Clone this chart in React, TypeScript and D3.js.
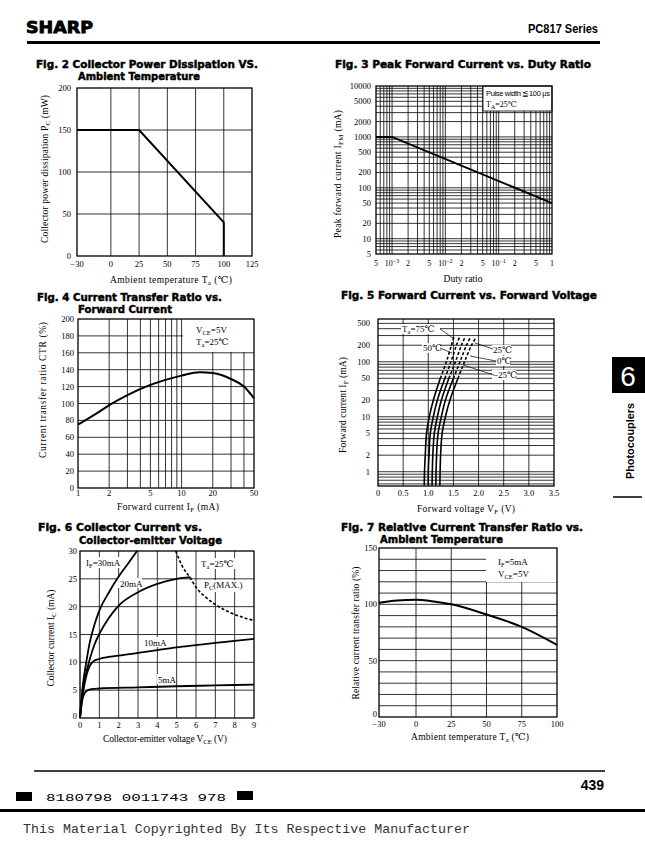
import React from "react";
import * as d3 from "d3";

const SERIF = "'Liberation Serif','DejaVu Serif',serif";
const SANS = "'Liberation Sans',Arial,sans-serif";
const HEAVY = "'DejaVu Sans','Liberation Sans',Arial,sans-serif";
const MONO = "'Liberation Mono','DejaVu Sans Mono',monospace";

// ---------- Fig 2 data
const fig2Temp = [-30, 25, 100, 100];
const fig2Pc = [150, 150, 40, 0];
const fig2XTicks = [-30, 0, 25, 50, 75, 100, 125];
const fig2YTicks = [0, 50, 100, 150, 200];
const fig2GridX = [0, 25, 50, 75, 100];
const fig2GridY = [50, 100, 150];

// ---------- Fig 3 data
const fig3Duty = [0.0005, 0.001, 1];
const fig3Ifm = [1000, 1000, 50];
const fig3YTicks = [5, 10, 20, 50, 100, 200, 500, 1000, 2000, 5000, 10000];
const fig3XTicks = [0.0005, 0.001, 0.002, 0.005, 0.01, 0.02, 0.05, 0.1, 0.2, 0.5, 1];
const fig3XLabels = ["5", "10|-3", "2", "5", "10|-2", "2", "5", "10|-1", "2", "5", "1"];

// ---------- Fig 4 data
const fig4If = [1, 1.5, 2, 3, 5, 7, 10, 15, 20, 30, 40, 50];
const fig4Ctr = [75, 88, 98, 110, 122, 128, 133, 137, 136, 129, 120, 106];
const fig4XTicks = [1, 2, 5, 10, 20, 50];
const fig4YTicks = [0, 20, 40, 60, 80, 100, 120, 140, 160, 180, 200];
const fig4GridX = [2, 3, 4, 5, 6, 7, 8, 9, 10, 20, 30, 40];

// ---------- Fig 5 data
const fig5Current = [0.56, 1, 2, 5, 10, 20, 50, 100, 200, 280];
const fig5V75 = [0.92, 0.925, 0.94, 0.965, 1.02, 1.1, 1.24, 1.36, 1.46, 1.51];
const fig5V50 = [1.0, 1.0, 1.015, 1.04, 1.1, 1.18, 1.33, 1.45, 1.56, 1.62];
const fig5V25 = [1.075, 1.08, 1.09, 1.12, 1.18, 1.26, 1.41, 1.54, 1.66, 1.73];
const fig5V0 = [1.15, 1.155, 1.165, 1.195, 1.26, 1.34, 1.5, 1.63, 1.76, 1.84];
const fig5Vm25 = [1.23, 1.235, 1.245, 1.275, 1.34, 1.43, 1.59, 1.72, 1.86, 1.95];
const fig5XTicks = [0, 0.5, 1.0, 1.5, 2.0, 2.5, 3.0, 3.5];
const fig5YTicks = [1, 2, 5, 10, 20, 50, 100, 200, 500];

// ---------- Fig 6 data
const fig6V30 = [0, 0.05, 0.15, 0.3, 0.5, 0.75, 1, 1.5, 2, 2.5, 2.95];
const fig6I30 = [0, 2.5, 6, 9.5, 13.5, 16.8, 19.3, 22.6, 25.4, 27.8, 30];
const fig6V20 = [0, 0.05, 0.15, 0.3, 0.5, 0.75, 1, 1.5, 2, 3, 4, 5, 5.7];
const fig6I20 = [0, 2, 4.8, 7.8, 10.5, 13.2, 15.1, 18, 20.2, 22.6, 24.1, 25, 25.3];
const fig6V10 = [0, 0.05, 0.15, 0.3, 0.5, 0.7, 1, 2, 3, 4, 5, 6, 7, 8, 9];
const fig6I10 = [0, 2, 4.5, 7.2, 9.3, 10.2, 10.6, 11.2, 11.7, 12.2, 12.7, 13.1, 13.5, 13.85, 14.2];
const fig6V5 = [0, 0.05, 0.12, 0.25, 0.4, 0.6, 1, 3, 5, 7, 9];
const fig6I5 = [0, 1.5, 3.2, 4.5, 5.0, 5.2, 5.3, 5.5, 5.7, 5.85, 6.0];
const fig6PcV = [4.95, 5.3, 5.7, 6, 6.5, 7, 7.5, 8, 8.5, 9];
const fig6PcI = [30, 27.2, 25.2, 23.5, 21.7, 20.4, 19.4, 18.6, 18, 17.5];
const fig6XTicks = [0, 1, 2, 3, 4, 5, 6, 7, 8, 9];
const fig6YTicks = [0, 5, 10, 15, 20, 25, 30];

// ---------- Fig 7 data
const fig7Temp = [-30, -15, 0, 10, 25, 50, 75, 100];
const fig7Ratio = [101.5, 103.5, 104, 103, 100, 91, 80, 64];
const fig7XTicks = [-30, 0, 25, 50, 75, 100];
const fig7YTicks = [0, 50, 100, 150];
const fig7GridY = [10, 20, 30, 40, 50, 60, 70, 80, 90, 100, 110, 120, 130, 140];

const zip = (a: number[], b: number[]) => a.map((v, i) => [v, b[i]] as [number, number]);

const logMinors = (lo: number, hi: number) => {
  const out: number[] = [];
  for (let e = Math.floor(Math.log10(lo)) - 1; e <= Math.ceil(Math.log10(hi)); e++) {
    for (let k = 1; k <= 9; k++) {
      const v = k * Math.pow(10, e);
      if (v > lo * 1.0001 && v < hi * 0.9999) out.push(v);
    }
  }
  return out;
};

const GRID = 0.8;
const FRAME = 1.3;

function Heading({ x, y, w, text }: { x: number; y: number; w: number; text: string }) {
  return (
    <text x={x} y={y} fontFamily={HEAVY} fontWeight="bold" fontSize={10.5} textLength={w}
      lengthAdjust="spacingAndGlyphs" stroke="#000" strokeWidth={0.45}>{text}</text>
  );
}

function VGrid({ vals, xs, y0, y1 }: any) {
  return <g>{vals.map((v: number, i: number) => (
    <line key={i} x1={xs(v)} x2={xs(v)} y1={y0} y2={y1} stroke="#000" strokeWidth={GRID} />))}</g>;
}
function HGrid({ vals, ys, x0, x1 }: any) {
  return <g>{vals.map((v: number, i: number) => (
    <line key={i} x1={x0} x2={x1} y1={ys(v)} y2={ys(v)} stroke="#000" strokeWidth={GRID} />))}</g>;
}
function YLabels({ vals, ys, x, fmt, lowShift = 0 }: any) {
  return <g>{vals.map((v: number, i: number) => (
    <text key={i} x={x} y={ys(v) + 3 - (i === 0 ? lowShift : 0)} textAnchor="end" fontFamily={SERIF} fontSize={8.5}>{fmt ? fmt(v) : String(v)}</text>))}</g>;
}
function XLabels({ vals, xs, y, fmt }: any) {
  return <g>{vals.map((v: number, i: number) => (
    <text key={i} x={xs(v)} y={y} textAnchor="middle" fontFamily={SERIF} fontSize={8.5}>{fmt ? fmt(v, i) : String(v)}</text>))}</g>;
}
const minus = (v: number) => (v < 0 ? "\u2212" + Math.abs(v) : String(v));

function Fig2() {
  const xs = d3.scaleLinear().domain([-30, 125]).range([77, 252]);
  const ys = d3.scaleLinear().domain([0, 200]).range([256, 88]);
  const line = d3.line<[number, number]>().x(d => xs(d[0])).y(d => ys(d[1]));
  return (
    <g>
      <Heading x={36} y={68} w={222} text="Fig. 2 Collector Power Dissipation VS." />
      <Heading x={78} y={80} w={122} text="Ambient Temperature" />
      <VGrid vals={fig2GridX} xs={xs} y0={88} y1={256} />
      <HGrid vals={fig2GridY} ys={ys} x0={77} x1={252} />
      <rect x={77} y={88} width={175} height={168} fill="none" stroke="#000" strokeWidth={FRAME} />
      <path d={line(zip(fig2Temp, fig2Pc)) || ""} fill="none" stroke="#000" strokeWidth={2} />
      <YLabels vals={fig2YTicks} ys={ys} x={71} />
      <XLabels vals={fig2XTicks} xs={xs} y={267} fmt={(v: number) => minus(v)} />
      <text x={171} y={283} textAnchor="middle" fontFamily={SERIF} fontSize={9.5} textLength={122}>
        Ambient temperature T<tspan fontSize={7} dy={2}>a</tspan><tspan dy={-2}> (℃)</tspan>
      </text>
      <text transform="translate(48,169) rotate(-90)" textAnchor="middle" fontFamily={SERIF} fontSize={9.5} textLength={148}>
        Collector power dissipation P<tspan fontSize={7} dy={2}>C</tspan><tspan dy={-2}> (mW)</tspan>
      </text>
    </g>
  );
}

function Fig3() {
  const xs = d3.scaleLog().domain([0.0005, 1]).range([376, 552]);
  const ys = d3.scaleLog().domain([5, 10000]).range([254, 86]);
  const line = d3.line<[number, number]>().x(d => xs(d[0])).y(d => ys(d[1]));
  return (
    <g>
      <Heading x={335} y={68} w={256} text="Fig. 3 Peak Forward Current vs. Duty Ratio" />
      <VGrid vals={logMinors(0.0005, 1)} xs={xs} y0={86} y1={254} />
      <HGrid vals={logMinors(5, 10000)} ys={ys} x0={376} x1={552} />
      <rect x={483} y={86} width={69} height={25} fill="#fff" stroke="#000" strokeWidth={GRID} />
      <rect x={376} y={86} width={176} height={168} fill="none" stroke="#000" strokeWidth={FRAME} />
      <path d={line(zip(fig3Duty, fig3Ifm)) || ""} fill="none" stroke="#000" strokeWidth={2} />
      <text x={486} y={96} fontFamily={SANS} fontSize={7.5} textLength={64}>Pulse width ≦100 μs</text>
      <text x={486} y={107} fontFamily={SERIF} fontSize={8}>T<tspan fontSize={6} dy={1.5}>A</tspan><tspan dy={-1.5}>=25℃</tspan></text>
      <YLabels vals={fig3YTicks} ys={ys} x={371} />
      {fig3XTicks.map((v, i) => {
        const lab = fig3XLabels[i];
        if (lab.includes("|")) {
          const [b, e] = lab.split("|");
          return (
            <text key={i} x={xs(v)} y={266} textAnchor="middle" fontFamily={SERIF} fontSize={8}>
              {b}<tspan fontSize={6} dy={-3}>{e.replace("-", "\u2212")}</tspan>
            </text>
          );
        }
        return <text key={i} x={xs(v)} y={266} textAnchor="middle" fontFamily={SERIF} fontSize={8}>{lab}</text>;
      })}
      <text x={463} y={282} textAnchor="middle" fontFamily={SERIF} fontSize={9.5}>Duty ratio</text>
      <text transform="translate(341,174) rotate(-90)" textAnchor="middle" fontFamily={SERIF} fontSize={9.5} textLength={128}>
        Peak forward current I<tspan fontSize={7} dy={2}>FM</tspan><tspan dy={-2}> (mA)</tspan>
      </text>
    </g>
  );
}

function Fig4() {
  const xs = d3.scaleLog().domain([1, 50]).range([78, 254]);
  const ys = d3.scaleLinear().domain([0, 200]).range([488, 319]);
  const line = d3.line<[number, number]>().x(d => xs(d[0])).y(d => ys(d[1])).curve(d3.curveMonotoneX);
  return (
    <g>
      <Heading x={37} y={301} w={185} text="Fig. 4 Current Transfer Ratio vs." />
      <Heading x={78} y={313} w={94} text="Forward Current" />
      <VGrid vals={fig4GridX} xs={xs} y0={319} y1={488} />
      <HGrid vals={fig4YTicks.slice(1, -1)} ys={ys} x0={78} x1={254} />
      <rect x={183} y={319} width={71} height={33} fill="#fff" stroke="none" />
      <rect x={78} y={319} width={176} height={169} fill="none" stroke="#000" strokeWidth={FRAME} />
      <path d={line(zip(fig4If, fig4Ctr)) || ""} fill="none" stroke="#000" strokeWidth={2} />
      <text x={196} y={333} fontFamily={SERIF} fontSize={9}>V<tspan fontSize={6.5} dy={2}>CE</tspan><tspan dy={-2}>=5V</tspan></text>
      <text x={196} y={345} fontFamily={SERIF} fontSize={9}>T<tspan fontSize={6.5} dy={2}>a</tspan><tspan dy={-2}>=25℃</tspan></text>
      <YLabels vals={fig4YTicks} ys={ys} x={74} />
      <XLabels vals={fig4XTicks} xs={xs} y={496} />
      <text x={168} y={510} textAnchor="middle" fontFamily={SERIF} fontSize={9.5} textLength={102}>
        Forward current I<tspan fontSize={7} dy={2}>F</tspan><tspan dy={-2}> (mA)</tspan>
      </text>
      <text transform="translate(46,390) rotate(-90)" textAnchor="middle" fontFamily={SERIF} fontSize={9.5} textLength={136}>
        Current transfer ratio CTR (%)
      </text>
    </g>
  );
}

function Fig5() {
  const xs = d3.scaleLinear().domain([0, 3.5]).range([378, 554]);
  const ys = d3.scaleLog().domain([0.55, 600]).range([486, 319]);
  const line = d3.line<[number, number]>().x(d => xs(d[0])).y(d => ys(d[1])).curve(d3.curveCatmullRom);
  const curves = [fig5V75, fig5V50, fig5V25, fig5V0, fig5Vm25];
  const lbl = (x: number, y: number, w: number, content: any, key: string) => (
    <g key={key}>
      <rect x={x - 1} y={y - 8} width={w + 2} height={10} fill="#fff" />
      <text x={x} y={y} fontFamily={SERIF} fontSize={9}>{content}</text>
    </g>
  );
  return (
    <g>
      <Heading x={341} y={299} w={256} text="Fig. 5 Forward Current vs. Forward Voltage" />
      <VGrid vals={fig5XTicks.slice(1, -1)} xs={xs} y0={319} y1={486} />
      <HGrid vals={logMinors(0.55, 600)} ys={ys} x0={378} x1={554} />
      <rect x={378} y={319} width={176} height={167} fill="none" stroke="#000" strokeWidth={FRAME} />
      {curves.map((c, i) => {
        const pts = zip(c, fig5Current);
        return (
          <g key={i}>
            <path d={line(pts.slice(0, 7)) || ""} fill="none" stroke="#000" strokeWidth={1.6} />
            <path d={line(pts.slice(6)) || ""} fill="none" stroke="#000" strokeWidth={1.6} strokeDasharray="3,2" />
          </g>
        );
      })}
      {lbl(402, 332, 37, <>T<tspan fontSize={6.5} dy={2}>a</tspan><tspan dy={-2}>=75℃</tspan></>, "a")}
      <line x1={440} y1={329} x2={453} y2={338} stroke="#000" strokeWidth={0.7} />
      {lbl(423, 351, 16, "50℃", "b")}
      <line x1={440} y1={348} x2={452} y2={353} stroke="#000" strokeWidth={0.7} />
      {lbl(493, 353, 17, "25℃", "c")}
      <line x1={475} y1={343} x2={493} y2={349} stroke="#000" strokeWidth={0.7} />
      {lbl(497, 364, 12, "0℃", "d")}
      <line x1={470} y1={356} x2={496} y2={361} stroke="#000" strokeWidth={0.7} />
      {lbl(493, 378, 22, "\u221225℃", "e")}
      <line x1={463} y1={365} x2={494} y2={375} stroke="#000" strokeWidth={0.7} />
      <YLabels vals={fig5YTicks} ys={ys} x={370} />
      <XLabels vals={fig5XTicks} xs={xs} y={496} fmt={(v: number) => (v === 0 ? "0" : v.toFixed(1))} />
      <text x={466} y={512} textAnchor="middle" fontFamily={SERIF} fontSize={9.5} textLength={98}>
        Forward voltage V<tspan fontSize={7} dy={2}>F</tspan><tspan dy={-2}> (V)</tspan>
      </text>
      <text transform="translate(346,405) rotate(-90)" textAnchor="middle" fontFamily={SERIF} fontSize={9.5} textLength={96}>
        Forward current I<tspan fontSize={7} dy={2}>F</tspan><tspan dy={-2}> (mA)</tspan>
      </text>
    </g>
  );
}

function Fig6() {
  const xs = d3.scaleLinear().domain([0, 9]).range([80, 254]);
  const ys = d3.scaleLinear().domain([0, 30]).range([718, 551]);
  const line = d3.line<[number, number]>().x(d => xs(d[0])).y(d => ys(d[1])).curve(d3.curveMonotoneX);
  const series = [zip(fig6V30, fig6I30), zip(fig6V20, fig6I20), zip(fig6V10, fig6I10), zip(fig6V5, fig6I5)];
  return (
    <g>
      <Heading x={38} y={531} w={164} text="Fig. 6 Collector Current vs." />
      <Heading x={79} y={544} w={143} text="Collector-emitter Voltage" />
      <VGrid vals={fig6XTicks.slice(1, -1)} xs={xs} y0={551} y1={718} />
      <HGrid vals={fig6YTicks.slice(1, -1)} ys={ys} x0={80} x1={254} />
      <rect x={80} y={551} width={174} height={167} fill="none" stroke="#000" strokeWidth={FRAME} />
      <rect x={86} y={557} width={50} height={11} fill="#fff" />
      <rect x={118} y={578} width={24} height={10} fill="#fff" />
      <rect x={143} y={637} width={23} height={10} fill="#fff" />
      <rect x={157} y={674} width={19} height={10} fill="#fff" />
      <rect x={199} y={558} width={40} height={11} fill="#fff" />
      <rect x={203} y={580} width={46} height={12} fill="#fff" />
      {series.map((s, i) => (
        <path key={i} d={line(s) || ""} fill="none" stroke="#000" strokeWidth={1.8} />
      ))}
      <path d={line(zip(fig6PcV, fig6PcI)) || ""} fill="none" stroke="#000" strokeWidth={1.6} strokeDasharray="3,2" />
      <text x={86} y={566} fontFamily={SERIF} fontSize={9}>I<tspan fontSize={6.5} dy={2}>F</tspan><tspan dy={-2}>=30mA</tspan></text>
      <text x={120} y={587} fontFamily={SERIF} fontSize={9}>20mA</text>
      <text x={144} y={646} fontFamily={SERIF} fontSize={9}>10mA</text>
      <text x={158} y={683} fontFamily={SERIF} fontSize={9}>5mA</text>
      <text x={201} y={567} fontFamily={SERIF} fontSize={9}>T<tspan fontSize={6.5} dy={2}>a</tspan><tspan dy={-2}>=25℃</tspan></text>
      <text x={204} y={588} fontFamily={SERIF} fontSize={9}>P<tspan fontSize={6.5} dy={2}>C</tspan><tspan dy={-2}>(MAX.)</tspan></text>
      <YLabels vals={fig6YTicks} ys={ys} x={77} lowShift={2} />
      <XLabels vals={fig6XTicks} xs={xs} y={728} />
      <text x={165} y={742} textAnchor="middle" fontFamily={SERIF} fontSize={9.5} textLength={124}>
        Collector-emitter voltage V<tspan fontSize={7} dy={2}>CE</tspan><tspan dy={-2}> (V)</tspan>
      </text>
      <text transform="translate(54,638) rotate(-90)" textAnchor="middle" fontFamily={SERIF} fontSize={9.5} textLength={97}>
        Collector current I<tspan fontSize={7} dy={2}>C</tspan><tspan dy={-2}> (mA)</tspan>
      </text>
    </g>
  );
}

function Fig7() {
  const xs = d3.scaleLinear().domain([-30, 0, 100]).range([379, 416, 557]);
  const ys = d3.scaleLinear().domain([0, 150]).range([717, 548]);
  const line = d3.line<[number, number]>().x(d => xs(d[0])).y(d => ys(d[1])).curve(d3.curveMonotoneX);
  return (
    <g>
      <Heading x={341} y={531} w={242} text="Fig. 7 Relative Current Transfer Ratio vs." />
      <Heading x={380} y={543} w={123} text="Ambient Temperature" />
      <VGrid vals={[0, 25, 50, 75]} xs={xs} y0={548} y1={717} />
      <HGrid vals={fig7GridY} ys={ys} x0={379} x1={557} />
      <rect x={486} y={548} width={71} height={34} fill="#fff" />
      <rect x={379} y={548} width={178} height={169} fill="none" stroke="#000" strokeWidth={FRAME} />
      <path d={line(zip(fig7Temp, fig7Ratio)) || ""} fill="none" stroke="#000" strokeWidth={2} />
      <text x={498} y={565} fontFamily={SERIF} fontSize={9}>I<tspan fontSize={6.5} dy={2}>F</tspan><tspan dy={-2}>=5mA</tspan></text>
      <text x={498} y={577} fontFamily={SERIF} fontSize={9}>V<tspan fontSize={6.5} dy={2}>CE</tspan><tspan dy={-2}>=5V</tspan></text>
      <YLabels vals={fig7YTicks} ys={ys} x={377} lowShift={3} />
      <XLabels vals={fig7XTicks} xs={xs} y={727} fmt={(v: number) => minus(v)} />
      <text x={470} y={740} textAnchor="middle" fontFamily={SERIF} fontSize={9.5} textLength={118}>
        Ambient temperature T<tspan fontSize={7} dy={2}>a</tspan><tspan dy={-2}> (℃)</tspan>
      </text>
      <text transform="translate(359,633) rotate(-90)" textAnchor="middle" fontFamily={SERIF} fontSize={9.5} textLength={133}>
        Relative current transfer ratio (%)
      </text>
    </g>
  );
}

export default function App() {
  return (
    <svg width={645} height={863} viewBox="0 0 645 863"
      style={{ position: "absolute", left: 0, top: 0, background: "#fff" }}>
      <rect x={0} y={0} width={645} height={863} fill="#fff" />
      {/* header */}
      <text x={26} y={33} fontFamily={HEAVY} fontWeight="bold" fontSize={15}
        textLength={67} lengthAdjust="spacingAndGlyphs" stroke="#000" strokeWidth={0.8}>SHARP</text>
      <text x={598} y={33} textAnchor="end" fontFamily={SANS} fontWeight="bold" fontSize={12}
        textLength={70} lengthAdjust="spacingAndGlyphs">PC817 Series</text>
      <line x1={27} x2={600} y1={42.5} y2={42.5} stroke="#000" strokeWidth={3} />

      <Fig2 />
      <Fig3 />
      <Fig4 />
      <Fig5 />
      <Fig6 />
      <Fig7 />

      {/* side tab */}
      <rect x={612} y={357} width={33} height={36} fill="#000" />
      <text x={628} y={386} textAnchor="middle" fontFamily={SANS} fontSize={28} fill="#fff">6</text>
      <text transform="translate(634,441) rotate(-90)" textAnchor="middle" fontFamily={SANS}
        fontWeight="bold" fontSize={10} textLength={76} lengthAdjust="spacingAndGlyphs">Photocouplers</text>
      <line x1={613} x2={642} y1={497} y2={497} stroke="#000" strokeWidth={1.5} />

      {/* footer */}
      <line x1={34} x2={605} y1={771} y2={771} stroke="#000" strokeWidth={1.5} />
      <text x={604} y={790} textAnchor="end" fontFamily={SANS} fontWeight="bold" fontSize={14}>439</text>
      <rect x={16} y={792} width={16} height={9} fill="#000" />
      <text x={46} y={801} fontFamily={MONO} fontSize={11} textLength={180} lengthAdjust="spacingAndGlyphs">8180798 0011743 978</text>
      <rect x={237} y={791} width={16} height={9} fill="#000" />
      <line x1={0} x2={645} y1={810.5} y2={810.5} stroke="#000" strokeWidth={3} />
      <text x={23} y={833} fontFamily={MONO} fontSize={13} fill="#333" textLength={447}
        lengthAdjust="spacingAndGlyphs">This Material Copyrighted By Its Respective Manufacturer</text>
    </svg>
  );
}
